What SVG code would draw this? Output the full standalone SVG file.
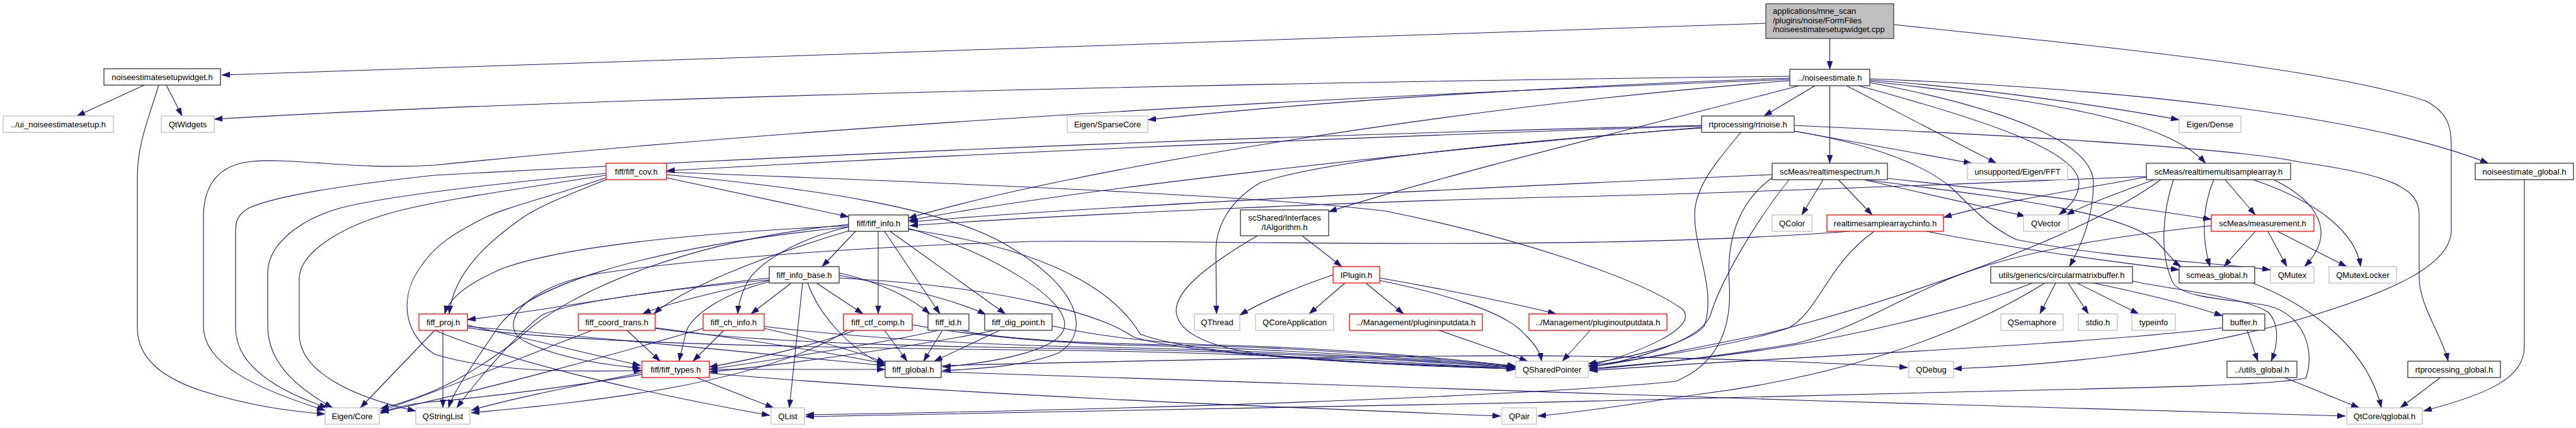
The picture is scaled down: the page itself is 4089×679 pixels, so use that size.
<svg xmlns="http://www.w3.org/2000/svg" width="4089" height="679" viewBox="0 0 4089 679">
<style>
text{font-family:"Liberation Sans",Arial,Helvetica,sans-serif;font-size:13px;fill:#000;text-anchor:middle}
.b rect{fill:#fff;stroke:#333;stroke-width:1.3}
.g rect{fill:#fff;stroke:#bfbfbf;stroke-width:1.3}
.r rect{fill:#fff;stroke:#ff0000;stroke-width:1.3}
.root rect{fill:#bfbfbf;stroke:#404040;stroke-width:1.3}
.root text{text-anchor:start}
#edges path{fill:none;stroke:#191970;stroke-width:1.1;marker-end:url(#ah)}
</style>
<defs>
<marker id="ah" markerUnits="userSpaceOnUse" markerWidth="14" markerHeight="10" refX="13" refY="4.5" orient="auto">
<path d="M0,0 L13,4.5 L0,9 Z" fill="#191970" stroke="#191970" stroke-width="0.5"/>
</marker>
</defs>
<rect width="4089" height="679" fill="#fff"/>
<g id="edges">
<path d="M2803,37 L352,119"/>
<path d="M2904.5,61 L2904.5,110"/>
<path d="M3006,39 C3350,75 3700,110 3850,160 C3885,178 3891,200 3891,230 L3891,365 C3891,420 3800,465 3620,515 C3450,560 3250,580 3101,585"/>
<path d="M229,135 L122,184"/>
<path d="M264,135 L289,184"/>
<path d="M252,135 C235,190 218,230 218,280 L218,520 C218,570 260,600 320,620 C400,645 460,652 516,657"/>
<path d="M2841,121 C2200,128 1000,150 340,189"/>
<path d="M2841,124 C2500,135 2100,160 1822,190"/>
<path d="M2841,126 C2200,150 1400,190 690,262 C560,270 470,250 400,256 C340,262 323,300 323,345 L323,518 C323,575 400,615 516,651"/>
<path d="M2881,136 L2800,184"/>
<path d="M2968,127 C3150,140 3350,170 3459,190"/>
<path d="M2904.5,136 L2904.5,259"/>
<path d="M2931,136 L3169,259"/>
<path d="M2968,129 C3250,160 3440,190 3501,259"/>
<path d="M2968,125 C3350,140 3750,180 3950,259"/>
<path d="M2841,128 C2300,170 1700,270 1442,346"/>
<path d="M2856,136 C2650,190 2300,275 2109,336"/>
<path d="M2950,136 C3150,190 3300,240 3300,290 C3300,312 3285,328 3268,341"/>
<path d="M2968,131 C3200,175 3323,230 3323,290 C3323,350 3300,395 3285,423"/>
<path d="M2701,199 C2000,215 1300,245 690,278 C550,293 440,310 395,330 C378,340 374,350 374,365 L374,520 C374,580 440,620 520,647"/>
<path d="M2701,200 C2300,212 1600,240 1058,271"/>
<path d="M2701,202 C2300,235 1700,300 1442,350"/>
<path d="M2848,208 L3130,259"/>
<path d="M2848,199 C3200,215 3550,235 3650,257 C3800,278 3840,300 3840,340 L3840,440 C3840,485 3878,535 3886,573"/>
<path d="M2763,210 C2740,240 2690,290 2690,340 C2690,400 2725,460 2705,518 C2680,545 2600,565 2521,577"/>
<path d="M2701,203 C2400,225 2100,255 2000,290 C1950,320 1930,360 1930,400 L1931,498"/>
<path d="M2848,208 C2950,225 3050,255 3100,300 C3140,340 3160,360 3200,380 C3350,410 3500,415 3604,428"/>
<path d="M962,275 C800,290 620,310 540,330 C470,350 427,390 425,430 L425,518 C425,580 480,620 528,647"/>
<path d="M962,278 C820,300 680,320 620,338 C540,360 478,400 475,440 L475,530 C475,590 560,630 660,652"/>
<path d="M1058,282 L1347,344"/>
<path d="M962,285 C900,310 860,325 830,345 C780,380 720,430 713,498"/>
<path d="M1058,273 C1500,290 2000,310 2200,335 C2400,375 2600,440 2670,490 C2700,520 2600,560 2521,581"/>
<path d="M1058,277 C1300,300 1500,330 1600,390 C1720,460 1730,530 1680,560 C1630,580 1560,585 1496,588"/>
<path d="M962,282 C880,310 800,330 770,345 C720,370 690,390 670,420 C632,470 640,530 690,562 C780,590 900,590 1019,588"/>
<path d="M1358,367 L1305,423"/>
<path d="M1347,360 C1260,380 1200,420 1185,450 C1175,470 1172,485 1171,498"/>
<path d="M1394,367 L1394,498"/>
<path d="M1404,367 L1492,498"/>
<path d="M1413,367 L1596,498"/>
<path d="M1442,362 C1570,400 1690,470 1690,515 C1690,555 1580,575 1496,582"/>
<path d="M1348,366 C1200,410 1080,460 1038,498"/>
<path d="M1347,358 C1100,370 900,390 800,425 C740,450 712,475 706,498"/>
<path d="M1347,360 C1000,395 830,460 790,520 C750,580 720,620 712,647"/>
<path d="M1347,356 C1100,380 900,460 820,540 C740,600 680,630 604,648"/>
<path d="M1442,364 C1700,400 1780,480 1810,530 C1900,565 2200,580 2404,585"/>
<path d="M1221,441 C1000,465 850,495 742,507"/>
<path d="M1221,445 C1150,460 1060,480 1020,498"/>
<path d="M1256,449 L1192,498"/>
<path d="M1296,449 L1370,498"/>
<path d="M1274,449 L1253,647"/>
<path d="M1221,447 C1150,465 1095,500 1088,530 C1084,550 1080,562 1078,573"/>
<path d="M1221,444 C1050,460 900,480 860,500 C820,530 760,600 725,647"/>
<path d="M1332,433 C1400,448 1450,475 1476,498"/>
<path d="M1332,437 C1450,458 1530,482 1565,499"/>
<path d="M1282,449 C1300,500 1350,555 1405,580"/>
<path d="M1332,441 C1600,455 1750,500 1800,535 C1900,565 2200,578 2404,583"/>
<path d="M742,516 C850,540 950,565 1017,580"/>
<path d="M703,524 L703,647"/>
<path d="M690,524 L572,647"/>
<path d="M690,524 C800,570 1000,620 1222,659"/>
<path d="M742,518 C1000,540 1250,565 1405,580"/>
<path d="M742,520 C900,545 1300,552 1700,556 C2000,560 2250,575 2406,586"/>
<path d="M995,524 L1048,573"/>
<path d="M940,524 C820,570 700,620 604,652"/>
<path d="M1040,520 C1200,540 1320,560 1405,577"/>
<path d="M1040,521 C1200,545 1500,550 1700,553 C2000,557 2250,572 2406,584"/>
<path d="M1149,524 L1100,573"/>
<path d="M1213,521 C1300,540 1360,558 1405,575"/>
<path d="M1213,518 C1400,540 1600,548 1750,551 C2000,555 2250,570 2406,583"/>
<path d="M1116,521 C950,570 760,620 604,654"/>
<path d="M1404,524 L1440,573"/>
<path d="M1357,524 C1300,545 1200,570 1126,582"/>
<path d="M1448,515 C1550,535 1700,545 1800,548 C2000,552 2250,568 2406,582"/>
<path d="M1345,524 C1200,615 900,640 748,655"/>
<path d="M1496,524 L1466,573"/>
<path d="M1490,524 C1400,545 1220,572 1126,586"/>
<path d="M1525,524 C1600,540 1750,545 1850,547 C2050,550 2250,566 2406,581"/>
<path d="M1587,524 L1483,573"/>
<path d="M1580,524 C1450,550 1250,578 1126,590"/>
<path d="M1670,517 C1750,535 1850,545 1950,548 C2100,552 2280,566 2406,581"/>
<path d="M1126,586 L1405,586"/>
<path d="M1103,598 L1228,647"/>
<path d="M1019,591 C900,615 800,635 748,651"/>
<path d="M1019,594 C900,615 750,632 680,638 C640,642 620,648 604,656"/>
<path d="M1126,592 C1500,625 2000,645 2382,660"/>
<path d="M1494,590 C2000,610 3000,640 3723,660"/>
<path d="M1494,580 C1900,570 2300,562 2500,565 C2700,568 2900,575 3028,583"/>
<path d="M2067,374 L2130,423"/>
<path d="M1996,374 C1900,430 1860,470 1868,500 C1875,530 1920,550 2000,562 C2150,575 2300,582 2404,585"/>
<path d="M2116,436 C2060,455 2000,480 1968,500"/>
<path d="M2135,449 L2078,498"/>
<path d="M2168,449 L2228,498"/>
<path d="M2190,441 C2300,460 2420,485 2470,498"/>
<path d="M2190,445 C2290,465 2390,495 2420,530 C2440,550 2445,560 2447,573"/>
<path d="M2284,524 L2425,573"/>
<path d="M2524,524 L2480,573"/>
<path d="M2894,285 L2860,341"/>
<path d="M2918,285 L2972,341"/>
<path d="M2958,285 L3215,343"/>
<path d="M2813,277 C2300,300 1700,330 1444,352"/>
<path d="M2960,285 C3150,310 3350,330 3420,380 C3440,400 3450,415 3462,423"/>
<path d="M2996,283 C3200,305 3400,330 3510,348"/>
<path d="M2840,285 C2780,360 2730,450 2715,500 C2700,540 2600,570 2523,583"/>
<path d="M2813,282 C2760,320 2740,380 2745,450 C2750,530 2720,580 2660,605 C2400,630 1800,650 1279,658"/>
<path d="M3407,281 C3300,300 3150,325 3085,345"/>
<path d="M3420,285 C3350,310 3300,330 3280,341"/>
<path d="M3532,285 L3580,341"/>
<path d="M3514,285 C3495,330 3495,380 3508,423"/>
<path d="M3609,285 C3680,320 3710,370 3658,423"/>
<path d="M3576,285 C3680,320 3740,370 3747,423"/>
<path d="M3407,280 C3100,292 2800,305 2500,312 C2200,318 1700,340 1444,358"/>
<path d="M3430,285 C3300,380 3000,480 2800,530 C2650,560 2580,575 2523,582"/>
<path d="M3450,285 C3435,330 3425,400 3450,450 C3470,475 3550,475 3600,485 C3660,500 3675,560 3660,600 C3600,612 3400,615 3100,622 C2500,640 1800,650 1279,661"/>
<path d="M3580,367 L3530,423"/>
<path d="M3600,367 L3630,423"/>
<path d="M3615,367 L3725,423"/>
<path d="M3510,358 C3350,375 3200,400 3100,440 C3000,480 2950,520 2850,545 C2700,570 2600,580 2523,586"/>
<path d="M3058,367 C3200,395 3350,415 3459,428"/>
<path d="M2975,367 C2900,420 2890,490 2840,520 C2750,550 2600,570 2523,580"/>
<path d="M2936,367 C2500,400 1900,380 1640,383 C1400,390 1100,410 944,435 C820,460 790,520 834,542 C880,565 950,578 1017,584"/>
<path d="M3263,449 L3238,498"/>
<path d="M3283,449 L3315,498"/>
<path d="M3297,449 L3395,498"/>
<path d="M3323,449 C3400,465 3480,485 3528,501"/>
<path d="M3385,446 C3450,460 3560,470 3600,495 C3620,515 3615,550 3605,573"/>
<path d="M3226,449 C3100,500 2900,540 2800,555 C2700,570 2600,578 2523,585"/>
<path d="M3246,449 C3100,540 2900,600 2700,625 C2600,640 2500,655 2441,660"/>
<path d="M3567,524 L3584,573"/>
<path d="M3528,520 C3300,548 2800,568 2523,588"/>
<path d="M3624,598 L3745,647"/>
<path d="M3875,598 L3810,647"/>
<path d="M3576,449 C3680,490 3760,560 3780,647"/>
<path d="M4007,285 L4007,550 C4007,600 3950,625 3847,652"/>
</g>
<g id="n1" class="root"><rect x="2803" y="6" width="203" height="55"/><text x="2814" y="21.5">applications/mne_scan</text><text x="2814" y="36.5">/plugins/noise/FormFiles</text><text x="2814" y="51">/noiseestimatesetupwidget.cpp</text></g>
<g id="n2" class="b"><rect x="165" y="109" width="185" height="26"/><text x="257.5" y="127">noiseestimatesetupwidget.h</text></g>
<g id="n3" class="b"><rect x="2841" y="110" width="127" height="26"/><text x="2904.5" y="128">../noiseestimate.h</text></g>
<g id="n4" class="g"><rect x="5" y="184" width="175" height="26"/><text x="92.5" y="202">../ui_noiseestimatesetup.h</text></g>
<g id="n5" class="g"><rect x="256" y="184" width="84" height="26"/><text x="298" y="202">QtWidgets</text></g>
<g id="n7" class="g"><rect x="1694" y="184" width="128" height="26"/><text x="1758" y="202">Eigen/SparseCore</text></g>
<g id="n8" class="b"><rect x="2701" y="184" width="147" height="26"/><text x="2774.5" y="202">rtprocessing/rtnoise.h</text></g>
<g id="n9" class="g"><rect x="3459" y="184" width="98" height="26"/><text x="3508" y="202">Eigen/Dense</text></g>
<g id="n10" class="r"><rect x="962" y="259" width="96" height="26"/><text x="1010" y="277">fiff/fiff_cov.h</text></g>
<g id="n11" class="b"><rect x="2813" y="259" width="183" height="26"/><text x="2904.5" y="277">scMeas/realtimespectrum.h</text></g>
<g id="n12" class="g"><rect x="3123" y="259" width="159" height="26"/><text x="3202.5" y="277">unsupported/Eigen/FFT</text></g>
<g id="n13" class="b"><rect x="3407" y="259" width="229" height="26"/><text x="3521.5" y="277">scMeas/realtimemultisamplearray.h</text></g>
<g id="n14" class="b"><rect x="3929" y="259" width="156" height="26"/><text x="4007" y="277">noiseestimate_global.h</text></g>
<g id="n15" class="b"><rect x="1347" y="341" width="95" height="26"/><text x="1394.5" y="359">fiff/fiff_info.h</text></g>
<g id="n16" class="b"><rect x="1969" y="333" width="140" height="41"/><text x="2039" y="350">scShared/Interfaces</text><text x="2039" y="365">/IAlgorithm.h</text></g>
<g id="n17" class="g"><rect x="2813" y="341" width="63" height="26"/><text x="2844.5" y="359">QColor</text></g>
<g id="n18" class="r"><rect x="2900" y="341" width="185" height="26"/><text x="2992.5" y="359">realtimesamplearraychinfo.h</text></g>
<g id="n19" class="g"><rect x="3212" y="341" width="71" height="26"/><text x="3247.5" y="359">QVector</text></g>
<g id="n20" class="r"><rect x="3510" y="341" width="163" height="26"/><text x="3591.5" y="359">scMeas/measurement.h</text></g>
<g id="n21" class="b"><rect x="1221" y="423" width="111" height="26"/><text x="1276.5" y="441">fiff_info_base.h</text></g>
<g id="n22" class="r"><rect x="2116" y="423" width="74" height="26"/><text x="2153" y="441">IPlugin.h</text></g>
<g id="n23" class="b"><rect x="3160" y="423" width="225" height="26"/><text x="3272.5" y="441">utils/generics/circularmatrixbuffer.h</text></g>
<g id="n24" class="b"><rect x="3459" y="423" width="120" height="26"/><text x="3519" y="441">scmeas_global.h</text></g>
<g id="n25" class="g"><rect x="3604" y="423" width="69" height="26"/><text x="3638.5" y="441">QMutex</text></g>
<g id="n26" class="g"><rect x="3697" y="423" width="107" height="26"/><text x="3750.5" y="441">QMutexLocker</text></g>
<g id="n27" class="r"><rect x="665" y="498" width="77" height="26"/><text x="703.5" y="516">fiff_proj.h</text></g>
<g id="n28" class="r"><rect x="918" y="498" width="122" height="26"/><text x="979" y="516">fiff_coord_trans.h</text></g>
<g id="n29" class="r"><rect x="1116" y="498" width="97" height="26"/><text x="1164.5" y="516">fiff_ch_info.h</text></g>
<g id="n30" class="r"><rect x="1339" y="498" width="109" height="26"/><text x="1393.5" y="516">fiff_ctf_comp.h</text></g>
<g id="n31" class="b"><rect x="1473" y="498" width="65" height="26"/><text x="1505.5" y="516">fiff_id.h</text></g>
<g id="n32" class="b"><rect x="1563" y="498" width="107" height="26"/><text x="1616.5" y="516">fiff_dig_point.h</text></g>
<g id="n33" class="g"><rect x="1896" y="498" width="72" height="26"/><text x="1932" y="516">QThread</text></g>
<g id="n34" class="g"><rect x="1993" y="498" width="124" height="26"/><text x="2055" y="516">QCoreApplication</text></g>
<g id="n35" class="r"><rect x="2142" y="498" width="211" height="26"/><text x="2247.5" y="516">../Management/plugininputdata.h</text></g>
<g id="n36" class="r"><rect x="2427" y="498" width="219" height="26"/><text x="2536.5" y="516">../Management/pluginoutputdata.h</text></g>
<g id="n37" class="g"><rect x="3176" y="498" width="99" height="26"/><text x="3225.5" y="516">QSemaphore</text></g>
<g id="n38" class="g"><rect x="3299" y="498" width="62" height="26"/><text x="3330" y="516">stdio.h</text></g>
<g id="n39" class="g"><rect x="3384" y="498" width="69" height="26"/><text x="3418.5" y="516">typeinfo</text></g>
<g id="n40" class="b"><rect x="3528" y="498" width="67" height="26"/><text x="3561.5" y="516">buffer.h</text></g>
<g id="n41" class="r"><rect x="1019" y="573" width="107" height="26"/><text x="1072.5" y="591">fiff/fiff_types.h</text></g>
<g id="n42" class="b"><rect x="1405" y="573" width="89" height="26"/><text x="1449.5" y="591">fiff_global.h</text></g>
<g id="n43" class="g"><rect x="2406" y="573" width="115" height="26"/><text x="2463.5" y="591">QSharedPointer</text></g>
<g id="n44" class="g"><rect x="3030" y="573" width="71" height="26"/><text x="3065.5" y="591">QDebug</text></g>
<g id="n45" class="b"><rect x="3535" y="573" width="111" height="26"/><text x="3590.5" y="591">../utils_global.h</text></g>
<g id="n46" class="b"><rect x="3822" y="573" width="147" height="26"/><text x="3895.5" y="591">rtprocessing_global.h</text></g>
<g id="n6" class="g"><rect x="516" y="647" width="86" height="26"/><text x="559" y="665">Eigen/Core</text></g>
<g id="n47" class="g"><rect x="660" y="647" width="86" height="26"/><text x="703" y="665">QStringList</text></g>
<g id="n48" class="g"><rect x="1224" y="647" width="53" height="26"/><text x="1250.5" y="665">QList</text></g>
<g id="n49" class="g"><rect x="2384" y="647" width="55" height="26"/><text x="2411.5" y="665">QPair</text></g>
<g id="n50" class="g"><rect x="3725" y="647" width="120" height="26"/><text x="3785" y="665">QtCore/qglobal.h</text></g>
</svg>
